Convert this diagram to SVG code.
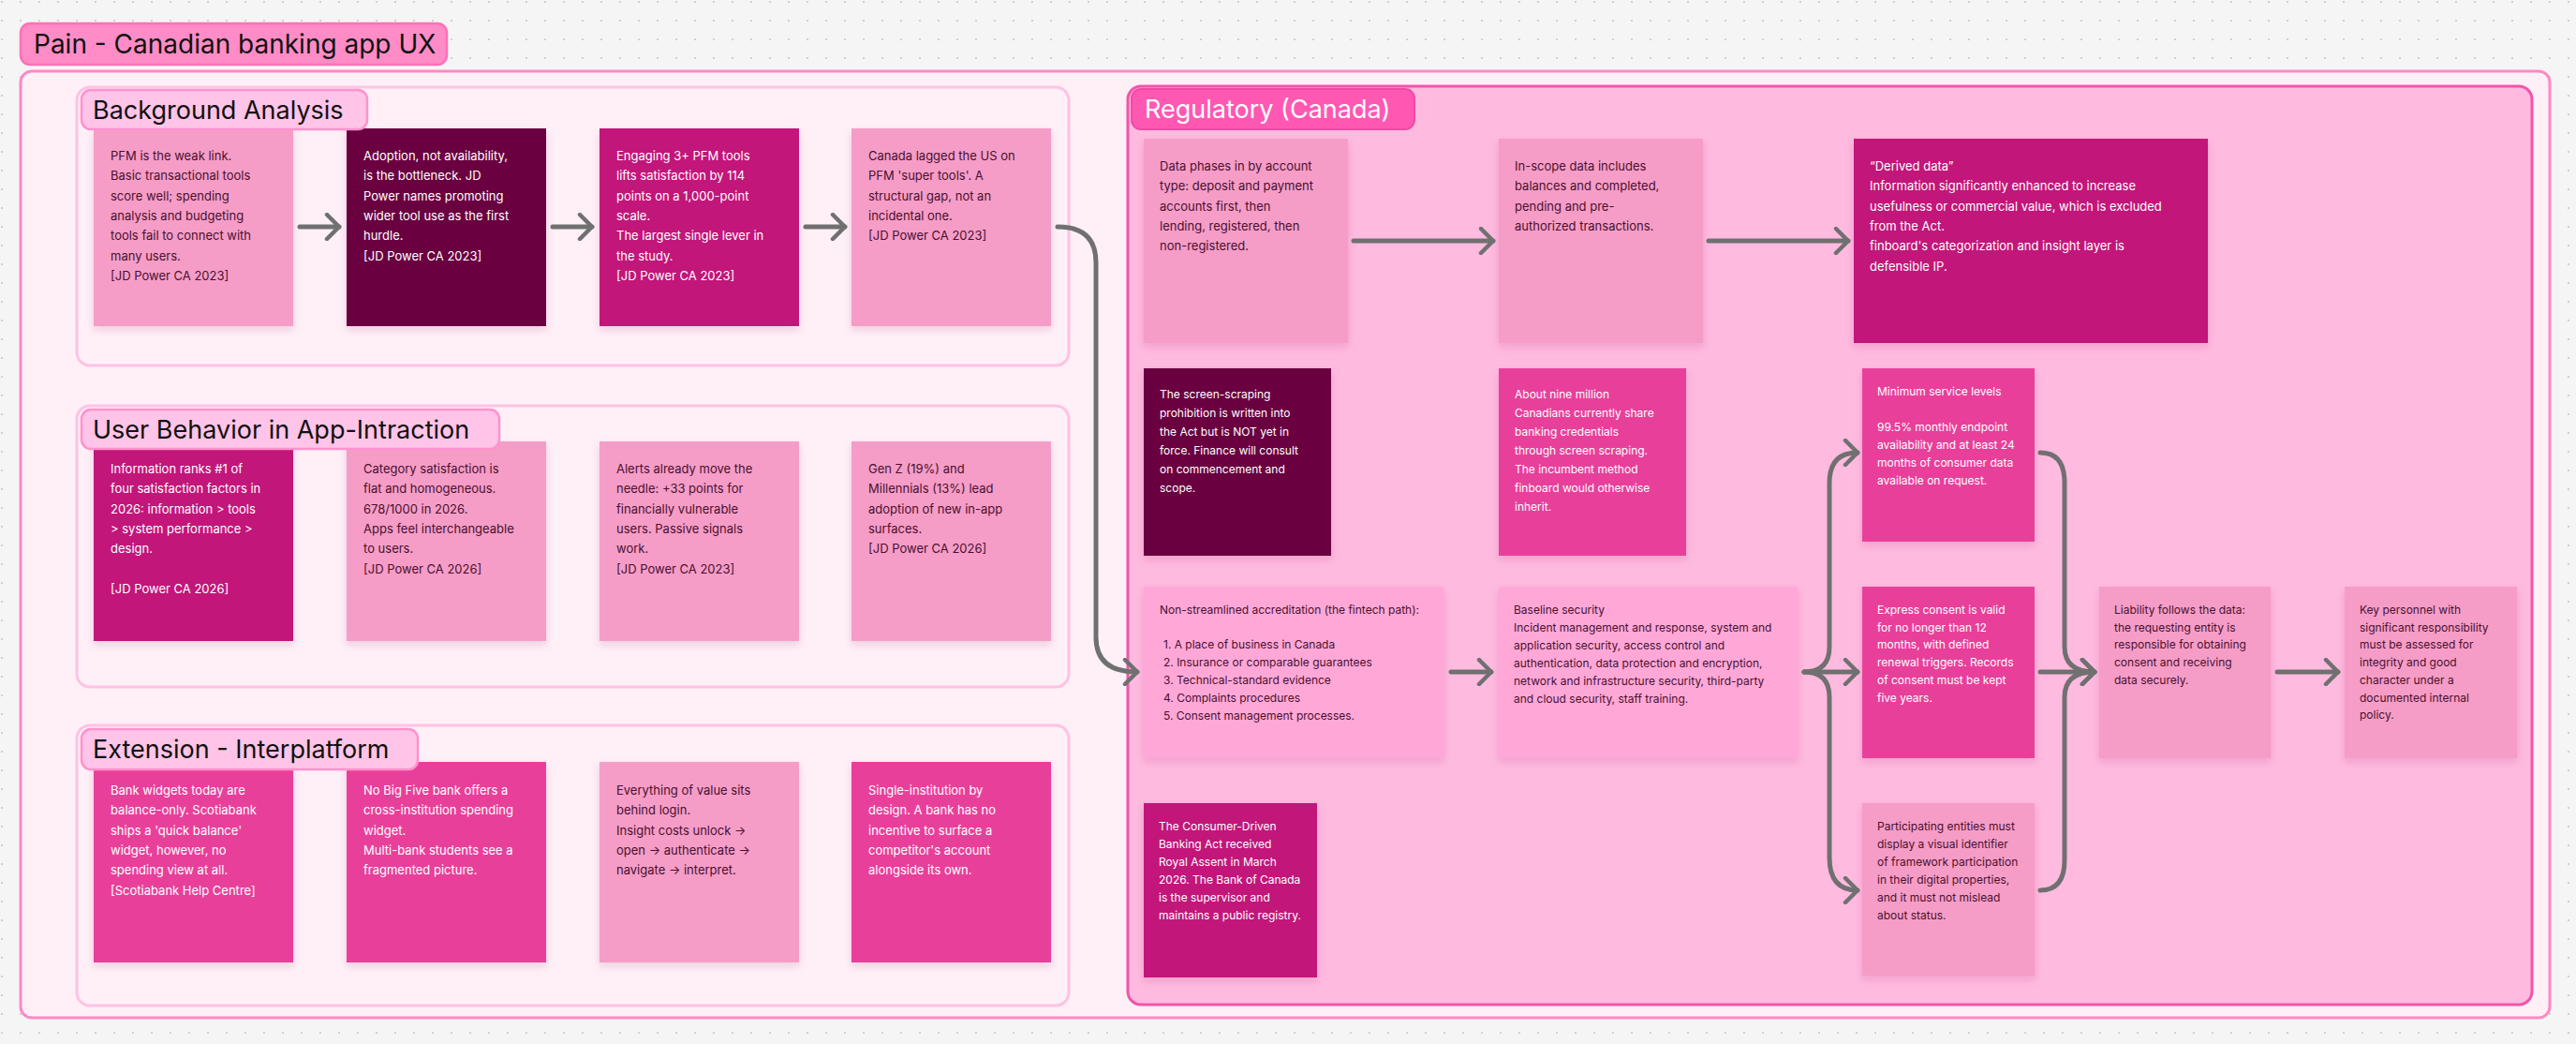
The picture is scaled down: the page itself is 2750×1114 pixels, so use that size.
<svg xmlns="http://www.w3.org/2000/svg" width="2750" height="1114" viewBox="0 0 2750 1114">
<defs>
<pattern id="dots" width="20" height="20" patternUnits="userSpaceOnUse"><circle cx="2" cy="2" r="1.1" fill="#c8c8c8"/></pattern>
<filter id="sh" x="-10%" y="-10%" width="120%" height="125%"><feDropShadow dx="0" dy="4" stdDeviation="4" flood-color="#a0306a" flood-opacity="0.18"/></filter>
<marker id="ah" viewBox="0 0 20 30" refX="17" refY="15" markerWidth="20" markerHeight="30" markerUnits="userSpaceOnUse" orient="auto"><path d="M4 2 L17 15 L4 28" fill="none" stroke="#707070" stroke-width="4.5" stroke-linecap="round" stroke-linejoin="round"/></marker>
<style>
.card{filter:url(#sh)}
.lt{fill:#f59dc7}.lt2{fill:#ffa8d8}.dk{fill:#6a0640}.mg{fill:#c2177a}.hp{fill:#e8419a}
text{font-family:Inter,"Noto Sans","Liberation Sans",sans-serif}
.t{font-size:13px}.s{font-size:12px}
.d{fill:#4a0f2e}.w{fill:#ffffff}
.sec{fill:#fff0f8;stroke:#ffc2e2;stroke-width:3}
.pill{fill:#ffc4e8;stroke:#ff92cd;stroke-width:2.5}
.ptx{font-size:27px;fill:#111}
.con{fill:none;stroke:#707070;stroke-width:5;stroke-linecap:round;marker-end:url(#ah)}
</style>
</defs>
<rect width="2750" height="1114" fill="#f5f5f5"/>
<rect width="2750" height="1114" fill="url(#dots)"/>

<g id="title"><rect x="22" y="25" width="455" height="44" rx="10" fill="#ff8cc6" stroke="#ff70b8" stroke-width="2.5"/><text x="36" y="57" font-size="28" fill="#111">Pain - Canadian banking app UX</text></g>
<g id="outer"><rect x="22" y="76" width="2700" height="1010" rx="12" fill="#fff0f7" stroke="#ff88c5" stroke-width="3"/></g>

<g id="bg-frame"><rect class="sec" x="82" y="93" width="1059" height="297" rx="14"/></g>
<g id="ub-frame"><rect class="sec" x="82" y="433" width="1059" height="300" rx="14"/></g>
<g id="ex-frame"><rect class="sec" x="82" y="774" width="1059" height="299" rx="14"/></g>
<g id="reg-frame"><rect x="1204" y="92" width="1499" height="980" rx="14" fill="#ffbadf" stroke="#f254ab" stroke-width="3"/></g>

<!-- Background Analysis -->
<g id="bg1"><rect class="card lt" x="100" y="137" width="213" height="211"/><text class="t d"><tspan x="118" y="171">PFM is the weak link.</tspan><tspan x="118" dy="21.3">Basic transactional tools</tspan><tspan x="118" dy="21.3">score well; spending</tspan><tspan x="118" dy="21.3">analysis and budgeting</tspan><tspan x="118" dy="21.3">tools fail to connect with</tspan><tspan x="118" dy="21.3">many users.</tspan><tspan x="118" dy="21.3">[JD Power CA 2023]</tspan></text></g>
<g id="bg2"><rect class="card dk" x="370" y="137" width="213" height="211"/><text class="t w"><tspan x="388" y="171">Adoption, not availability,</tspan><tspan x="388" dy="21.3">is the bottleneck. JD</tspan><tspan x="388" dy="21.3">Power names promoting</tspan><tspan x="388" dy="21.3">wider tool use as the first</tspan><tspan x="388" dy="21.3">hurdle.</tspan><tspan x="388" dy="21.3">[JD Power CA 2023]</tspan></text></g>
<g id="bg3"><rect class="card mg" x="640" y="137" width="213" height="211"/><text class="t w"><tspan x="658" y="171">Engaging 3+ PFM tools</tspan><tspan x="658" dy="21.3">lifts satisfaction by 114</tspan><tspan x="658" dy="21.3">points on a 1,000-point</tspan><tspan x="658" dy="21.3">scale.</tspan><tspan x="658" dy="21.3">The largest single lever in</tspan><tspan x="658" dy="21.3">the study.</tspan><tspan x="658" dy="21.3">[JD Power CA 2023]</tspan></text></g>
<g id="bg4"><rect class="card lt" x="909" y="137" width="213" height="211"/><text class="t d"><tspan x="927" y="171">Canada lagged the US on</tspan><tspan x="927" dy="21.3">PFM 'super tools'. A</tspan><tspan x="927" dy="21.3">structural gap, not an</tspan><tspan x="927" dy="21.3">incidental one.</tspan><tspan x="927" dy="21.3">[JD Power CA 2023]</tspan></text></g>
<g id="bg-pill"><rect class="pill" x="87" y="96" width="305" height="42" rx="10"/><text class="ptx" x="99" y="127">Background Analysis</text></g>

<!-- User Behavior -->
<g id="ub1"><rect class="card mg" x="100" y="471" width="213" height="213"/><text class="t w"><tspan x="118" y="505">Information ranks #1 of</tspan><tspan x="118" dy="21.3">four satisfaction factors in</tspan><tspan x="118" dy="21.3">2026: information &gt; tools</tspan><tspan x="118" dy="21.3">&gt; system performance &gt;</tspan><tspan x="118" dy="21.3">design.</tspan><tspan x="118" dy="42.6">[JD Power CA 2026]</tspan></text></g>
<g id="ub2"><rect class="card lt" x="370" y="471" width="213" height="213"/><text class="t d"><tspan x="388" y="505">Category satisfaction is</tspan><tspan x="388" dy="21.3">flat and homogeneous.</tspan><tspan x="388" dy="21.3">678/1000 in 2026.</tspan><tspan x="388" dy="21.3">Apps feel interchangeable</tspan><tspan x="388" dy="21.3">to users.</tspan><tspan x="388" dy="21.3">[JD Power CA 2026]</tspan></text></g>
<g id="ub3"><rect class="card lt" x="640" y="471" width="213" height="213"/><text class="t d"><tspan x="658" y="505">Alerts already move the</tspan><tspan x="658" dy="21.3">needle: +33 points for</tspan><tspan x="658" dy="21.3">financially vulnerable</tspan><tspan x="658" dy="21.3">users. Passive signals</tspan><tspan x="658" dy="21.3">work.</tspan><tspan x="658" dy="21.3">[JD Power CA 2023]</tspan></text></g>
<g id="ub4"><rect class="card lt" x="909" y="471" width="213" height="213"/><text class="t d"><tspan x="927" y="505">Gen Z (19%) and</tspan><tspan x="927" dy="21.3">Millennials (13%) lead</tspan><tspan x="927" dy="21.3">adoption of new in-app</tspan><tspan x="927" dy="21.3">surfaces.</tspan><tspan x="927" dy="21.3">[JD Power CA 2026]</tspan></text></g>
<g id="ub-pill"><rect class="pill" x="87" y="437" width="446" height="42" rx="10"/><text class="ptx" x="99" y="468">User Behavior in App-Intraction</text></g>

<!-- Extension -->
<g id="ex1"><rect class="card hp" x="100" y="813" width="213" height="214"/><text class="t w"><tspan x="118" y="848">Bank widgets today are</tspan><tspan x="118" dy="21.3">balance-only. Scotiabank</tspan><tspan x="118" dy="21.3">ships a 'quick balance'</tspan><tspan x="118" dy="21.3">widget, however, no</tspan><tspan x="118" dy="21.3">spending view at all.</tspan><tspan x="118" dy="21.3">[Scotiabank Help Centre]</tspan></text></g>
<g id="ex2"><rect class="card hp" x="370" y="813" width="213" height="214"/><text class="t w"><tspan x="388" y="848">No Big Five bank offers a</tspan><tspan x="388" dy="21.3">cross-institution spending</tspan><tspan x="388" dy="21.3">widget.</tspan><tspan x="388" dy="21.3">Multi-bank students see a</tspan><tspan x="388" dy="21.3">fragmented picture.</tspan></text></g>
<g id="ex3"><rect class="card lt" x="640" y="813" width="213" height="214"/><text class="t d"><tspan x="658" y="848">Everything of value sits</tspan><tspan x="658" dy="21.3">behind login.</tspan><tspan x="658" dy="21.3">Insight costs unlock →</tspan><tspan x="658" dy="21.3">open → authenticate →</tspan><tspan x="658" dy="21.3">navigate → interpret.</tspan></text></g>
<g id="ex4"><rect class="card hp" x="909" y="813" width="213" height="214"/><text class="t w"><tspan x="927" y="848">Single-institution by</tspan><tspan x="927" dy="21.3">design. A bank has no</tspan><tspan x="927" dy="21.3">incentive to surface a</tspan><tspan x="927" dy="21.3">competitor's account</tspan><tspan x="927" dy="21.3">alongside its own.</tspan></text></g>
<g id="ex-pill"><rect class="pill" x="87" y="778" width="359" height="43" rx="10"/><text class="ptx" x="99" y="809">Extension - Interplatform</text></g>

<!-- Regulatory -->
<g id="reg-pill"><rect x="1208" y="95" width="302" height="43" rx="10" fill="#ff58b3" stroke="#f04aa6" stroke-width="2"/><text x="1222" y="126" font-size="27" fill="#ffffff">Regulatory (Canada)</text></g>
<g id="r1"><rect class="card lt" x="1221" y="148" width="218" height="218"/><text class="t d"><tspan x="1238" y="182">Data phases in by account</tspan><tspan x="1238" dy="21.3">type: deposit and payment</tspan><tspan x="1238" dy="21.3">accounts first, then</tspan><tspan x="1238" dy="21.3">lending, registered, then</tspan><tspan x="1238" dy="21.3">non-registered.</tspan></text></g>
<g id="r2"><rect class="card lt" x="1600" y="148" width="218" height="218"/><text class="t d"><tspan x="1617" y="182">In-scope data includes</tspan><tspan x="1617" dy="21.3">balances and completed,</tspan><tspan x="1617" dy="21.3">pending and pre-</tspan><tspan x="1617" dy="21.3">authorized transactions.</tspan></text></g>
<g id="r3"><rect class="card mg" x="1979" y="148" width="378" height="218"/><text class="t w"><tspan x="1996" y="182">“Derived data”</tspan><tspan x="1996" dy="21.3">Information significantly enhanced to increase</tspan><tspan x="1996" dy="21.3">usefulness or commercial value, which is excluded</tspan><tspan x="1996" dy="21.3">from the Act.</tspan><tspan x="1996" dy="21.3">finboard's categorization and insight layer is</tspan><tspan x="1996" dy="21.3">defensible IP.</tspan></text></g>
<g id="r4"><rect class="card dk" x="1221" y="393" width="200" height="200"/><text class="s w"><tspan x="1238" y="425">The screen-scraping</tspan><tspan x="1238" dy="20">prohibition is written into</tspan><tspan x="1238" dy="20">the Act but is NOT yet in</tspan><tspan x="1238" dy="20">force. Finance will consult</tspan><tspan x="1238" dy="20">on commencement and</tspan><tspan x="1238" dy="20">scope.</tspan></text></g>
<g id="r5"><rect class="card hp" x="1600" y="393" width="200" height="200"/><text class="s w"><tspan x="1617" y="425">About nine million</tspan><tspan x="1617" dy="20">Canadians currently share</tspan><tspan x="1617" dy="20">banking credentials</tspan><tspan x="1617" dy="20">through screen scraping.</tspan><tspan x="1617" dy="20">The incumbent method</tspan><tspan x="1617" dy="20">finboard would otherwise</tspan><tspan x="1617" dy="20">inherit.</tspan></text></g>
<g id="r6"><rect class="card hp" x="1988" y="393" width="184" height="185"/><text class="s w"><tspan x="2004" y="422">Minimum service levels</tspan><tspan x="2004" dy="38">99.5% monthly endpoint</tspan><tspan x="2004" dy="19">availability and at least 24</tspan><tspan x="2004" dy="19">months of consumer data</tspan><tspan x="2004" dy="19">available on request.</tspan></text></g>
<g id="r7"><rect class="card lt2" x="1221" y="626" width="320" height="183"/><text class="s d"><tspan x="1238" y="655">Non-streamlined accreditation (the fintech path):</tspan><tspan x="1242" dy="37">1. A place of business in Canada</tspan><tspan x="1242" dy="19">2. Insurance or comparable guarantees</tspan><tspan x="1242" dy="19">3. Technical-standard evidence</tspan><tspan x="1242" dy="19">4. Complaints procedures</tspan><tspan x="1242" dy="19">5. Consent management processes.</tspan></text></g>
<g id="r8"><rect class="card lt2" x="1600" y="626" width="319" height="183"/><text class="s d"><tspan x="1616" y="655">Baseline security</tspan><tspan x="1616" dy="19">Incident management and response, system and</tspan><tspan x="1616" dy="19">application security, access control and</tspan><tspan x="1616" dy="19">authentication, data protection and encryption,</tspan><tspan x="1616" dy="19">network and infrastructure security, third-party</tspan><tspan x="1616" dy="19">and cloud security, staff training.</tspan></text></g>
<g id="r9"><rect class="card hp" x="1988" y="626" width="184" height="183"/><text class="s w"><tspan x="2004" y="655">Express consent is valid</tspan><tspan x="2004" dy="18.7">for no longer than 12</tspan><tspan x="2004" dy="18.7">months, with defined</tspan><tspan x="2004" dy="18.7">renewal triggers. Records</tspan><tspan x="2004" dy="18.7">of consent must be kept</tspan><tspan x="2004" dy="18.7">five years.</tspan></text></g>
<g id="r10"><rect class="card lt" x="2241" y="626" width="183" height="183"/><text class="s d"><tspan x="2257" y="655">Liability follows the data:</tspan><tspan x="2257" dy="18.7">the requesting entity is</tspan><tspan x="2257" dy="18.7">responsible for obtaining</tspan><tspan x="2257" dy="18.7">consent and receiving</tspan><tspan x="2257" dy="18.7">data securely.</tspan></text></g>
<g id="r11"><rect class="card lt" x="2503" y="626" width="184" height="183"/><text class="s d"><tspan x="2519" y="655">Key personnel with</tspan><tspan x="2519" dy="18.7">significant responsibility</tspan><tspan x="2519" dy="18.7">must be assessed for</tspan><tspan x="2519" dy="18.7">integrity and good</tspan><tspan x="2519" dy="18.7">character under a</tspan><tspan x="2519" dy="18.7">documented internal</tspan><tspan x="2519" dy="18.7">policy.</tspan></text></g>
<g id="r12"><rect class="card mg" x="1221" y="857" width="185" height="186"/><text class="s w"><tspan x="1237" y="886">The Consumer-Driven</tspan><tspan x="1237" dy="19">Banking Act received</tspan><tspan x="1237" dy="19">Royal Assent in March</tspan><tspan x="1237" dy="19">2026. The Bank of Canada</tspan><tspan x="1237" dy="19">is the supervisor and</tspan><tspan x="1237" dy="19">maintains a public registry.</tspan></text></g>
<g id="r13"><rect class="card lt" x="1988" y="857" width="184" height="184"/><text class="s d"><tspan x="2004" y="886"> Participating entities must</tspan><tspan x="2004" dy="19">display a visual identifier</tspan><tspan x="2004" dy="19">of framework participation</tspan><tspan x="2004" dy="19">in their digital properties,</tspan><tspan x="2004" dy="19">and it must not mislead</tspan><tspan x="2004" dy="19">about status.</tspan></text></g>

<g id="connectors">
<path class="con" d="M320 242 H362"/>
<path class="con" d="M590 242 H632"/>
<path class="con" d="M860 242 H902"/>
<path class="con" d="M1129 242 Q1170 242 1170 280 V680 Q1170 717 1214 717"/>
<path class="con" d="M1445 257 H1594"/>
<path class="con" d="M1824 257 H1973"/>
<path class="con" d="M1549 717 H1592"/>
<path class="con" d="M1926 717 H1983"/>
<path class="con" d="M1926 717 Q1953 717 1953 690 V515 Q1953 483 1983 483"/>
<path class="con" d="M1926 717 Q1953 717 1953 744 V915 Q1953 950 1983 950"/>
<path class="con" d="M2178 717 H2236"/>
<path class="con" d="M2178 483 Q2204 483 2204 515 V690 Q2204 717 2236 717"/>
<path class="con" d="M2178 950 Q2204 950 2204 918 V744 Q2204 717 2236 717"/>
<path class="con" d="M2431 717 H2496"/>
</g>
</svg>
